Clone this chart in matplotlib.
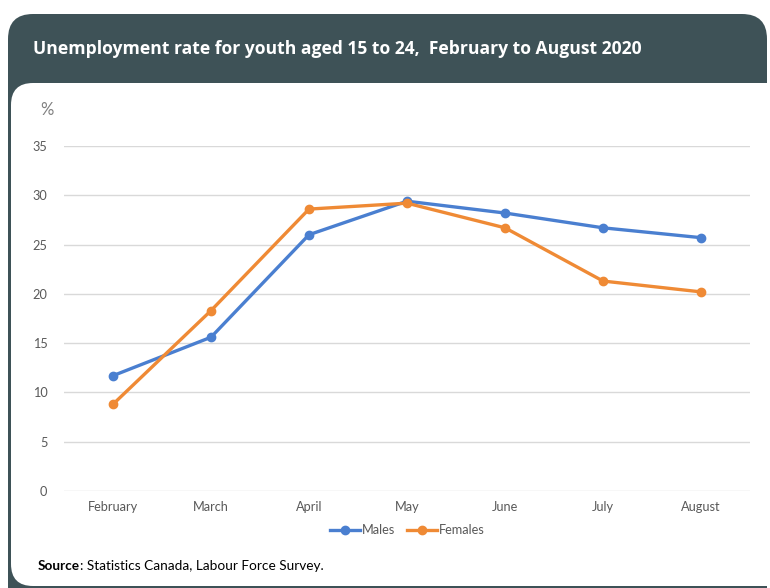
import matplotlib
matplotlib.use("Agg")
import matplotlib.pyplot as plt
from matplotlib.patches import FancyBboxPatch
from matplotlib.lines import Line2D

months = ["February", "March", "April", "May", "June", "July", "August"]
males = [11.7, 15.6, 26.0, 29.4, 28.2, 26.7, 25.7]
females = [8.8, 18.3, 28.6, 29.2, 26.7, 21.3, 20.2]
yticks = [0, 5, 10, 15, 20, 25, 30, 35]

W, H = 770, 588
fig = plt.figure(figsize=(W / 100, H / 100), dpi=100)
fig.patch.set_facecolor("white")

bg = fig.add_axes([0, 0, 1, 1])
bg.set_xlim(0, W)
bg.set_ylim(H, 0)
bg.axis("off")

dark = "#3e5257"
r = 25
bg.add_patch(FancyBboxPatch((8 + r, 14 + r), 759 - 2 * r, 700, boxstyle=f"round,pad={r}",
                            fc=dark, ec="none"))
r2 = 22
bg.add_patch(FancyBboxPatch((11 + r2, 83 + r2), 800, 503 - 2 * r2, boxstyle=f"round,pad={r2}",
                            fc="white", ec="none"))
bg.text(33, 49, "Unemployment rate for youth aged 15 to 24,  February to August 2020",
        color="white", fontsize=12.6, fontweight="bold", family="Open Sans", va="center", ha="left")
bg.text(40, 110, "%", color="#7f7f7f", fontsize=12, family="Lato", va="center", ha="left")
src = bg.text(38, 566, "Source", color="black", fontsize=9.8, fontweight="bold", family="Lato",
              va="center")
bg.annotate(": Statistics Canada, Labour Force Survey.", xy=(1, 0.5), xycoords=src,
            va="center", ha="left", color="black", fontsize=9.8, family="Lato")

ax_left, ax_right = 64, 750
ax_top, ax_bottom = 146, 491
ax = fig.add_axes([ax_left / W, 1 - ax_bottom / H, (ax_right - ax_left) / W, (ax_bottom - ax_top) / H])
ax.set_facecolor("none")
x = list(range(len(months)))
blue = "#4a7fd0"
orange = "#ef8a35"
ax.plot(x, males, color=blue, lw=2.4, marker="o", ms=6, solid_capstyle="round", zorder=3)
ax.plot(x, females, color=orange, lw=2.4, marker="o", ms=6, solid_capstyle="round", zorder=4)
ax.set_xlim(-0.5, 6.5)
ax.set_ylim(0, 35)
ax.set_yticks(yticks)
ax.set_xticks(x)
ax.set_xticklabels(months)
ax.grid(axis="y", color="#d9d9d9", lw=1)
ax.set_axisbelow(True)
for s in ax.spines.values():
    s.set_visible(False)
ax.tick_params(length=0, colors="#595959", labelsize=9.2)
ax.tick_params(axis="y", pad=12)
ax.tick_params(axis="x", pad=7)
for lab in ax.get_xticklabels() + ax.get_yticklabels():
    lab.set_family("Lato")

handles = [Line2D([], [], color=blue, lw=2.4, marker="o", ms=6),
           Line2D([], [], color=orange, lw=2.4, marker="o", ms=6)]
leg = fig.legend(handles, ["Males", "Females"], loc="center", bbox_to_anchor=(407 / W, 1 - 530 / H),
                 ncol=2, frameon=False, handlelength=2.4, handletextpad=0.1, columnspacing=0.9,
                 prop={"family": "Lato", "size": 9.2})
for t in leg.get_texts():
    t.set_color("#595959")

fig.savefig("out.png", dpi=100)
